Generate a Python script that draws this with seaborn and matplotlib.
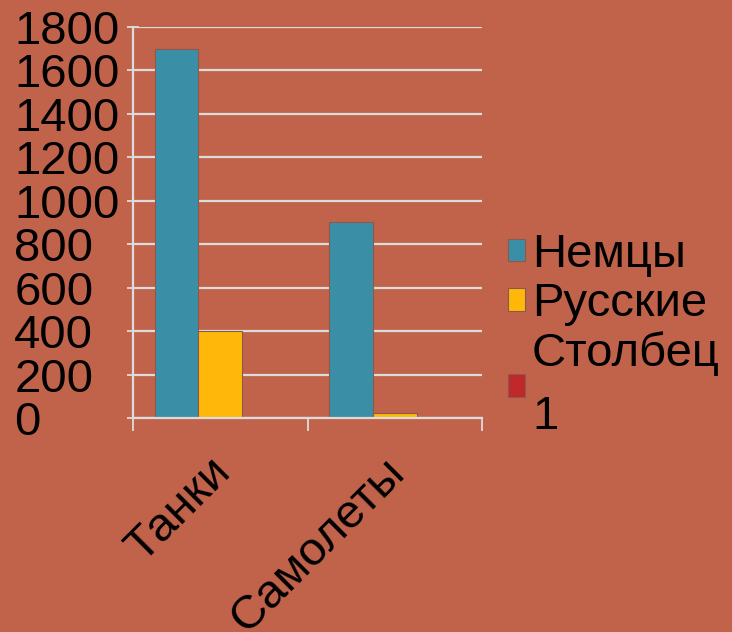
# -*- coding: utf-8 -*-
"""
Танки / Самолеты - сгруппированные столбцы (seaborn barplot)
"""
import matplotlib
matplotlib.use('Agg')
import matplotlib.pyplot as plt
import matplotlib.transforms as mtrans
import seaborn as sns
import pandas as pd

# 1. данные
categories = ['Танки', 'Самолеты']
series = ['Немцы', 'Русские', 'Столбец 1']
nemtsy = [1700, 900]
russkie = [400, 25]
stolbets1 = [0, 0]
y_ticks = [0, 200, 400, 600, 800, 1000, 1200, 1400, 1600, 1800]

colors = ['#3A8FA7', '#FFB80A', '#C0282C']
bg = '#C1634A'
grid_c = '#DCDCDC'

df = pd.DataFrame({
    'cat': categories * 3,
    'series': [series[0]] * 2 + [series[1]] * 2 + [series[2]] * 2,
    'val': nemtsy + russkie + stolbets1,
})

# 2. chart
sns.set_style('white')
plt.rcParams['font.family'] = ['Liberation Sans', 'DejaVu Sans']
plt.rcParams['text.color'] = 'black'
plt.rcParams['xtick.color'] = 'black'
plt.rcParams['ytick.color'] = 'black'

fig = plt.figure(figsize=(7.32, 6.32), dpi=100)
fig.patch.set_facecolor(bg)
ax = fig.add_axes([0.1817, 0.3386, 0.4768, 0.6187])
ax.set_facecolor(bg)

sns.barplot(data=df, x='cat', y='val', hue='series', hue_order=series,
            order=categories, palette=colors, width=0.75, gap=0,
            saturation=1, edgecolor='#8a5a4c', linewidth=0.8,
            ax=ax, zorder=3)

ax.set_xlim(-0.5, 1.5)
ax.set_ylim(0, 1800)
ax.set_yticks(y_ticks)
ax.set_yticklabels([str(v) for v in y_ticks])
ax.yaxis.grid(True, color=grid_c, linewidth=1.6, zorder=0)
ax.set_axisbelow(True)
ax.set_xlabel('')
ax.set_ylabel('')

for s in ['top', 'right']:
    ax.spines[s].set_visible(False)
for s in ['left', 'bottom']:
    ax.spines[s].set_color(grid_c)
    ax.spines[s].set_linewidth(1.6)
    ax.spines[s].set_zorder(4)

# y ticks : left aligned labels
ax.tick_params(axis='y', left=True, direction='inout', length=9, width=1.3,
               color=grid_c, labelcolor='black', labelsize=34, pad=81)
for lab in ax.get_yticklabels():
    lab.set_horizontalalignment('left')

# x ticks : marks on category borders
ax.set_xticks([-0.5, 0.5, 1.5], minor=True)
ax.tick_params(axis='x', which='minor', bottom=True, direction='out',
               length=9, width=1.3, color=grid_c)
ax.tick_params(axis='x', which='major', length=0, labelsize=34,
               labelcolor='black', pad=23)
shift = mtrans.ScaledTranslation(-9 / 72, 0, fig.dpi_scale_trans)
for lab in ax.get_xticklabels():
    lab.set_rotation(45)
    lab.set_horizontalalignment('right')
    lab.set_verticalalignment('top')
    lab.set_rotation_mode('anchor')
    lab.set_transform(lab.get_transform() + shift)

handles, labels = ax.get_legend_handles_labels()
labels = ['Немцы', 'Русские', 'Столбец\n1']
leg = ax.legend(handles, labels, loc='upper left',
                bbox_to_anchor=(508 / 732, 1 - 233 / 632),
                bbox_transform=fig.transFigure, frameon=False,
                fontsize=34, handlelength=0.36, handleheight=0.36,
                handletextpad=0.15, labelspacing=0.11, borderaxespad=0,
                borderpad=0)
for h in leg.legend_handles:
    h.set_edgecolor('#8a5a4c')
for t in leg.get_texts():
    t.set_color('black')
    t.set_linespacing(1.55)

fig.savefig('out.png', dpi=100, facecolor=bg)
